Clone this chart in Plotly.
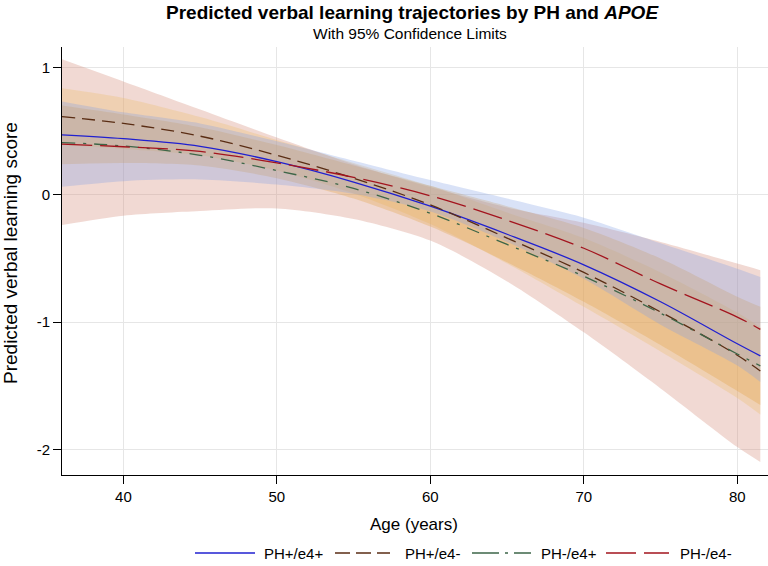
import plotly.graph_objects as go

AGES = [36, 40, 45, 50, 55, 60, 65, 70, 75, 80, 81.5]

# Predicted scores (centre lines)
PH_POS_E4_POS = [0.47, 0.44, 0.38, 0.26, 0.10, -0.09, -0.31, -0.55, -0.84, -1.17, -1.265]
PH_POS_E4_NEG = [0.613, 0.56, 0.46, 0.31, 0.13, -0.08, -0.34, -0.61, -0.92, -1.26, -1.383]
PH_NEG_E4_POS = [0.41, 0.383, 0.31, 0.19, 0.05, -0.146, -0.39, -0.64, -0.93, -1.25, -1.343]
PH_NEG_E4_NEG = [0.398, 0.377, 0.34, 0.25, 0.137, -0.008, -0.20, -0.42, -0.70, -0.96, -1.057]

# 95% confidence limits
PH_POS_E4_POS_UP = [0.70, 0.63, 0.53, 0.39, 0.23, 0.07, -0.09, -0.26, -0.50, -0.80, -0.88]
PH_POS_E4_POS_LO = [0.24, 0.25, 0.23, 0.13, -0.03, -0.25, -0.53, -0.84, -1.18, -1.54, -1.65]
PH_POS_E4_NEG_UP = [0.836, 0.76, 0.61, 0.43, 0.25, 0.07, -0.14, -0.34, -0.61, -0.925, -1.04]
PH_POS_E4_NEG_LO = [0.39, 0.36, 0.31, 0.19, 0.01, -0.23, -0.54, -0.88, -1.23, -1.595, -1.725]
PH_NEG_E4_POS_UP = [1.064, 0.89, 0.67, 0.45, 0.24, 0.06, -0.10, -0.22, -0.37, -0.54, -0.592]
PH_NEG_E4_POS_LO = [-0.238, -0.165, -0.128, -0.107, -0.19, -0.36, -0.68, -1.08, -1.52, -1.98, -2.097]
PH_NEG_E4_NEG_UP = [0.733, 0.647, 0.56, 0.42, 0.267, 0.115, -0.03, -0.18, -0.38, -0.58, -0.645]
PH_NEG_E4_NEG_LO = [0.063, 0.107, 0.12, 0.08, 0.007, -0.131, -0.37, -0.66, -1.02, -1.34, -1.469]

NAMES = ["PH+/e4+", "PH+/e4-", "PH-/e4+", "PH-/e4-"]
X_TICKS = [40, 50, 60, 70, 80]
Y_TICKS = [1, 0, -1, -2]
Y_TICK_TEXT = ["1", "0", "-1", "-2"]

FONT = "Arial, Liberation Sans, sans-serif"
W, H = 768, 566
ML, MR, MT, MB = 62, 0, 47, 91
PW, PH = W - ML - MR, H - MT - MB


def px_x(px):
    return (px - ML) / PW


def px_y(py):
    return (H - MB - py) / PH


fig = go.Figure()

bands = [
    (PH_NEG_E4_POS_UP, PH_NEG_E4_POS_LO, "rgba(214,140,120,0.33)"),
    (PH_POS_E4_NEG_UP, PH_POS_E4_NEG_LO, "rgba(235,190,110,0.32)"),
    (PH_POS_E4_POS_UP, PH_POS_E4_POS_LO, "rgba(225,160,60,0.30)"),
    (PH_NEG_E4_NEG_UP, PH_NEG_E4_NEG_LO, "rgba(130,160,230,0.30)"),
]
for up, lo, col in bands:
    fig.add_trace(go.Scatter(x=AGES, y=lo, mode="lines",
                             line=dict(width=0, shape="spline", smoothing=0.8),
                             showlegend=False, hoverinfo="skip"))
    fig.add_trace(go.Scatter(x=AGES, y=up, mode="lines",
                             line=dict(width=0, shape="spline", smoothing=0.8),
                             fill="tonexty", fillcolor=col, showlegend=False, hoverinfo="skip"))

COLORS = ["#2020d0", "#5a2d14", "#3d6648", "#a3141e"]
PLOT_DASH = ["solid", "13px,7px", "13px,8px,3px,8px", "30px,8px"]
LEGEND_DASH = ["solid", "15px,6px", "27px,6px,3px,6px", "30px,8px"]
for vals, name, col, dash in zip([PH_POS_E4_POS, PH_POS_E4_NEG, PH_NEG_E4_POS, PH_NEG_E4_NEG],
                                 NAMES, COLORS, PLOT_DASH):
    fig.add_trace(go.Scatter(x=AGES, y=vals, mode="lines", name=name, showlegend=False,
                             line=dict(color=col, width=1.3, dash=dash, shape="spline")))

# custom legend (line samples + labels) below the plot
LEG_ITEMS = [(195, 255, 262), (335, 390, 403), (472, 531, 539), (606, 669, 678)]
LEG_Y = 553
shapes = []
annotations = []
for (x0, x1, tx), name, col, dash in zip(LEG_ITEMS, NAMES, COLORS, LEGEND_DASH):
    shapes.append(dict(type="line", xref="paper", yref="paper",
                       x0=px_x(x0), x1=px_x(x1), y0=px_y(LEG_Y), y1=px_y(LEG_Y),
                       line=dict(color=col, width=1.3, dash=dash)))
    annotations.append(dict(text=name, xref="paper", yref="paper", x=px_x(tx), y=px_y(LEG_Y),
                            xanchor="left", yanchor="middle", showarrow=False,
                            font=dict(size=15, family=FONT, color="black")))

annotations += [
    dict(text="<b>Predicted verbal learning trajectories by PH and <i>APOE</i></b>",
         xref="paper", yref="paper", x=px_x(412), y=px_y(12), xanchor="center", yanchor="middle",
         showarrow=False, font=dict(size=19, family=FONT, color="black")),
    dict(text="With 95% Confidence Limits",
         xref="paper", yref="paper", x=px_x(410), y=px_y(33), xanchor="center", yanchor="middle",
         showarrow=False, font=dict(size=15.5, family=FONT, color="black")),
    dict(text="Age (years)", xref="paper", yref="paper", x=px_x(414), y=px_y(524),
         xanchor="center", yanchor="middle", showarrow=False,
         font=dict(size=17, family=FONT, color="black")),
    dict(text="Predicted verbal learning score", xref="paper", yref="paper", x=px_x(10),
         y=px_y(253), xanchor="center", yanchor="middle", textangle=-90, showarrow=False,
         font=dict(size=19, family=FONT, color="black")),
]

fig.update_layout(
    width=W, height=H,
    margin=dict(l=ML, r=MR, t=MT, b=MB),
    paper_bgcolor="white", plot_bgcolor="white",
    font=dict(family=FONT, color="black", size=15),
    showlegend=False,
    shapes=shapes,
    annotations=annotations,
)

fig.update_xaxes(range=[36, 82], tickvals=X_TICKS, showgrid=True, gridcolor="#e6e6e6",
                 showline=True, linecolor="black", linewidth=1, ticks="outside",
                 ticklen=8, tickcolor="black", zeroline=False, automargin=False,
                 tickfont=dict(size=15))
fig.update_yaxes(range=[-2.2, 1.16], tickvals=Y_TICKS, ticktext=Y_TICK_TEXT, showgrid=True,
                 gridcolor="#e6e6e6", showline=True, linecolor="black", linewidth=1,
                 ticks="outside", ticklen=8, tickcolor="black", zeroline=False,
                 automargin=False, tickfont=dict(size=15))

fig.write_html("out.html", config={"displayModeBar": False},
               post_script="document.body.style.margin='0';document.body.style.overflow='hidden';")
